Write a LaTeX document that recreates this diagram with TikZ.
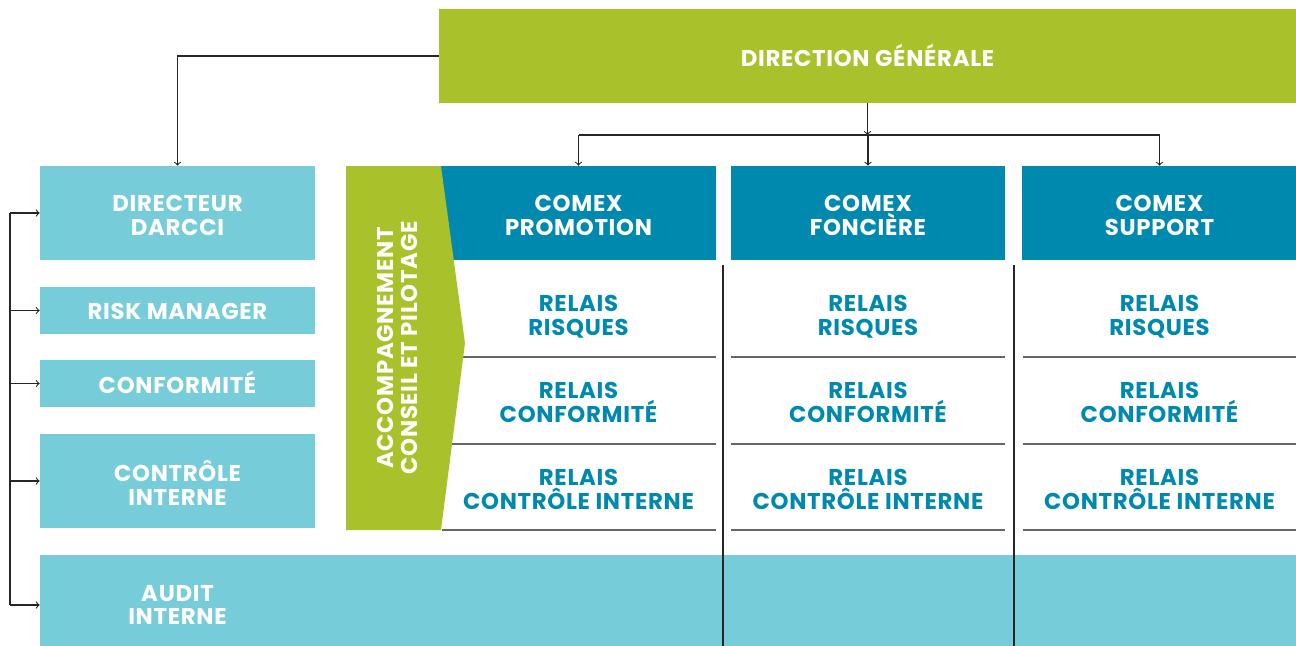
\documentclass[tikz,border=0pt]{standalone}
\usepackage{fontspec}
\setmainfont{Poppins}[LetterSpace=3]
\usetikzlibrary{positioning}
\definecolor{vertDG}{HTML}{A9C12A}
\definecolor{cyanclair}{HTML}{76CCD8}
\definecolor{bleuComex}{HTML}{0089AE}
\begin{document}
\begin{tikzpicture}[x=0.02cm, y=-0.02cm,
        txt/.style={font=\fontsize{13}{13.6}\selectfont\bfseries, align=center, inner sep=0pt},
        boite/.style={fill=#1, inner sep=0pt, minimum width=5.5cm},
        etiq/.style={txt, text=white},
        fleche/.style={->, line width=0.6pt, draw=black!85},
        trait/.style={line width=0.6pt, draw=black!85},
        sep/.style={draw=black!60, line width=0.7pt}]
            \useasboundingbox (0,0) rectangle (1296,646);
            % Direction générale
            \node[boite=vertDG, minimum width=17.14cm, minimum height=1.88cm]
                (dg) at (867.5,56) {};
            \node[etiq] (dg-t) at ([yshift=0.02cm]dg.center) {DIRECTION GÉNÉRALE};
            % Bande audit interne
            \fill[cyanclair] (40,555) rectangle (1296,646);
            \node[etiq, minimum width=5.5cm] (audit) at (177.5,605) {AUDIT\\INTERNE};
            % Colonne de gauche
            \foreach \nom/\yc/\h/\dy/\texte in {
                dir/213/1.88cm/-0.04cm/{DIRECTEUR\\DARCCI},
                risk/310.5/0.94cm/-0.02cm/{RISK MANAGER},
                conf/383.5/0.94cm/0.03cm/{CONFORMITÉ},
                ctrl/481/1.88cm/-0.04cm/{CONTRÔLE\\INTERNE}}{
                \node[boite=cyanclair, minimum height=\h] (\nom) at (177.5,\yc) {};
                \node[etiq] (\nom-t) at ([yshift=\dy]\nom.center) {\texte};
            }
            % Flèches de gauche
            \coordinate (bus) at (10,0);
            \draw[trait] (dir.west -| bus) -- (audit.west -| bus);
            \foreach \nom in {dir,risk,conf,ctrl,audit}
                \draw[fleche] (\nom.west -| bus) -- (\nom.west);
            \draw[fleche] (dg.west) -| (dir.north);
            % Comex
            \foreach \nom/\xc/\texte in {
                cpro/578.5/{COMEX\\PROMOTION},
                cfon/868/{COMEX\\FONCIÈRE},
                csup/1159.5/{COMEX\\SUPPORT}}{
                \node[boite=bleuComex, minimum height=1.88cm] (\nom) at (\xc,213) {};
                \node[etiq] (\nom-t) at ([yshift=-0.04cm]\nom.center) {\texte};
            }
            \coordinate (embr) at (868,135);
            \draw[fleche] (dg.south) -- (dg.south |- embr);
            \draw[trait] (cpro.north |- embr) -- (csup.north |- embr);
            \foreach \nom in {cpro,cfon,csup}
                \draw[fleche] (\nom.north |- embr) -- (\nom.north);
            % Relais
            \foreach \col/\xc in {pro/578.5, fon/868, sup/1159.5}{
                \foreach \lig/\yc/\texte in {
                    1/317/{RELAIS\\RISQUES},
                    2/402/{RELAIS\\CONFORMITÉ},
                    3/489/{RELAIS\\CONTRÔLE INTERNE}}{
                    \node[txt, text=bleuComex] (r\col\lig) at (\xc,\yc) {\texte};
                }
                \foreach \ys in {357,444,530}
                    \draw[sep] ({\xc-137},\ys) -- ({\xc+137},\ys);
            }
            % Séparations verticales
            \draw[trait] (723,265) -- (723,646);
            \draw[trait] (1014,265) -- (1014,646);
            % Accompagnement
            \fill[vertDG] (346,166) -- (441,166) -- (465,343) -- (441,530) -- (346,530) -- cycle;
            \node[etiq, rotate=90] (accomp) at (397,348)
                {ACCOMPAGNEMENT\\CONSEIL ET PILOTAGE};
        \end{tikzpicture}
\end{document}
